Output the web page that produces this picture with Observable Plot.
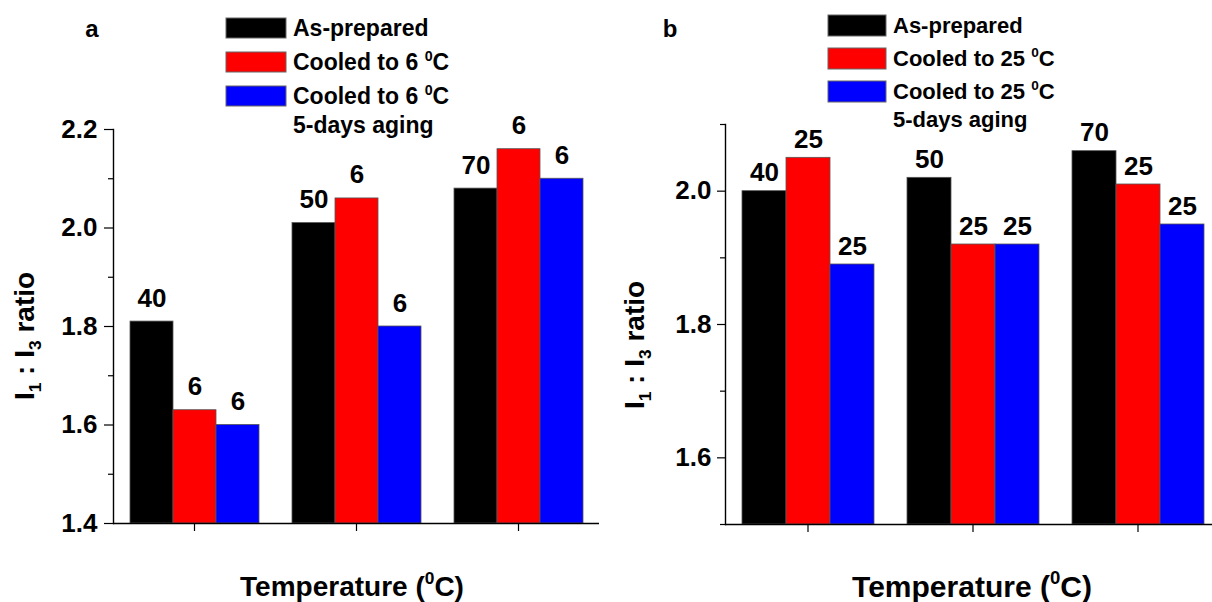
<!DOCTYPE html>
<html>
<head>
<meta charset="utf-8">
<script src="https://cdn.jsdelivr.net/npm/d3@7"></script>
<script src="https://cdn.jsdelivr.net/npm/@observablehq/plot@0.6"></script>
<style>
  html, body { margin: 0; padding: 0; background: #fff; overflow: hidden; }
  #root { position: relative; width: 1212px; height: 602px; overflow: hidden; }
  .panel { position: absolute; top: 0; }
  .panel svg { max-width: none !important; display: block; }
  .panel svg text { font-family: "Liberation Sans", Arial, sans-serif; }
</style>
</head>
<body>
<div id="root">
  <div class="panel" id="panelA" style="left:0px; width:606px"></div>
  <div class="panel" id="panelB" style="left:606px; width:615px"></div>
</div>
<script>
// Shared categories
const temperatures = ["40", "50", "70"];
const seriesKeys = ["asPrepared", "cooled", "aged"];
const seriesColors = ["#000000", "#ff0000", "#0000ff"];

// Panel a — cooled to 6 °C
const coolTempA = "6";
const asPreparedA = [1.81, 2.01, 2.08];
const cooledA = [1.63, 2.06, 2.16];
const agedA = [1.60, 1.80, 2.10];
const asPreparedLabelsA = ["40", "50", "70"];
const cooledLabelsA = ["6", "6", "6"];
const agedLabelsA = ["6", "6", "6"];
const yDomainA = [1.4, 2.2];
const yTicksA = [1.4, 1.6, 1.8, 2.0, 2.2];
const yMinorA = [1.5, 1.7, 1.9, 2.1];

// Panel b — cooled to 25 °C
const coolTempB = "25";
const asPreparedB = [2.00, 2.02, 2.06];
const cooledB = [2.05, 1.92, 2.01];
const agedB = [1.89, 1.92, 1.95];
const asPreparedLabelsB = ["40", "50", "70"];
const cooledLabelsB = ["25", "25", "25"];
const agedLabelsB = ["25", "25", "25"];
const yDomainB = [1.5, 2.1];
const yTicksB = [1.6, 1.8, 2.0];
const yMinorB = [1.5, 1.7, 1.9, 2.1];

const FONT = '"Liberation Sans", Arial, sans-serif';

function buildRows(values, labels) {
  const rows = [];
  temperatures.forEach((t, i) => {
    seriesKeys.forEach((s, j) => {
      rows.push({temp: t, series: s, value: values[j][i], label: labels[j][i]});
    });
  });
  return rows;
}

function barPanel(cfg) {
  const rows = buildRows(cfg.values, cfg.labels);
  const yMin = cfg.yDomain[0];
  return Plot.plot({
    width: cfg.width,
    height: cfg.height,
    marginLeft: cfg.marginLeft,
    marginRight: cfg.marginRight,
    marginTop: cfg.marginTop,
    marginBottom: cfg.marginBottom,
    style: {fontFamily: FONT, color: "#000", background: "transparent", overflow: "visible", maxWidth: "none"},
    fx: {domain: temperatures, paddingInner: 0, paddingOuter: 0, axis: null},
    x: {domain: seriesKeys, paddingInner: 0, paddingOuter: 0.367, axis: null},
    y: {domain: cfg.yDomain, axis: null},
    color: {domain: seriesKeys, range: seriesColors},
    marks: [
      Plot.barY(rows, {
        fx: "temp", x: "series", y1: yMin, y2: "value",
        fill: "series", stroke: "#555", strokeWidth: 0.8
      }),
      Plot.text(rows, {
        fx: "temp", x: "series", y: "value", text: "label",
        lineAnchor: "bottom", dy: cfg.labelDy,
        fontSize: cfg.labelSize, fontWeight: "bold", fill: "#000"
      }),
      // x axis line
      Plot.ruleY([yMin], {stroke: "#000", strokeWidth: 1.4}),
      // one outward tick under the centre of each temperature group
      Plot.ruleX(temperatures, {fx: (d) => d, x: null, y1: yMin, y2: yMin, insetBottom: -8, stroke: "#000", strokeWidth: 1.2}),
      // y axis line
      Plot.frame({anchor: "left", facetAnchor: "left", stroke: "#000", strokeWidth: 1.4}),
      Plot.axisY({
        ticks: cfg.yTicks, tickSize: cfg.tickSize, tickPadding: cfg.tickPadding,
        tickFormat: d3.format(".1f"), fontSize: cfg.tickFont, fontWeight: "bold",
        label: null, strokeWidth: 1.2
      }),
      Plot.axisY({ticks: cfg.yMinor, tickSize: 5, tickFormat: () => "", label: null, strokeWidth: 1.2})
    ]
  });
}

// Text with optional superscript/subscript pieces: parts = [[text, "sup"|"sub"|""], ...]
function richText(g, x, y, parts, size, opts = {}) {
  const t = g.append("text")
    .attr("x", x).attr("y", y)
    .attr("font-family", FONT)
    .attr("font-size", size)
    .attr("font-weight", "bold")
    .attr("fill", "#000")
    .attr("text-anchor", opts.anchor || "start");
  if (opts.rotate) t.attr("transform", `rotate(-90 ${x} ${y})`);
  let shift = 0;
  for (const [txt, kind] of parts) {
    const s = t.append("tspan").text(txt);
    let target = 0;
    if (kind === "sup") { s.attr("font-size", size * 0.62); target = -size * 0.42; }
    else if (kind === "sub") { s.attr("font-size", size * 0.62); target = size * 0.25; }
    s.attr("dy", target - shift);
    shift = target;
  }
  return t;
}

function decorate(svg, d) {
  const g = d3.select(svg).append("g");
  // panel letter
  richText(g, d.letter[0], d.letter[1], [[d.letter[2], ""]], 24, {anchor: "middle"});
  // legend
  const entries = [
    [["As-prepared", ""]],
    [[`Cooled to ${d.coolTemp} `, ""], ["0", "sup"], ["C", ""]],
    [[`Cooled to ${d.coolTemp} `, ""], ["0", "sup"], ["C", ""]]
  ];
  entries.forEach((parts, i) => {
    const y0 = d.legend.y[i];
    g.append("rect")
      .attr("x", d.legend.x).attr("y", y0)
      .attr("width", d.legend.w).attr("height", d.legend.h)
      .attr("fill", seriesColors[i]).attr("stroke", "#666").attr("stroke-width", 1);
    richText(g, d.legend.tx, y0 + d.legend.h / 2 + d.legend.size * 0.36, parts, d.legend.size);
  });
  richText(g, d.legend.tx, d.legend.extraY, [["5-days aging", ""]], d.legend.size);
  // axis titles
  richText(g, d.xTitle[0], d.xTitle[1], [["Temperature (", ""], ["0", "sup"], ["C)", ""]], d.xTitle[2], {anchor: "middle"});
  richText(g, d.yTitle[0], d.yTitle[1],
    [["I", ""], ["1", "sub"], [" : I", ""], ["3", "sub"], [" ratio", ""]],
    d.yTitle[2], {anchor: "middle", rotate: true});
}

const svgA = barPanel({
  values: [asPreparedA, cooledA, agedA],
  labels: [asPreparedLabelsA, cooledLabelsA, agedLabelsA],
  yDomain: yDomainA, yTicks: yTicksA, yMinor: yMinorA,
  width: 606, height: 602, marginLeft: 112, marginRight: 6, marginTop: 129, marginBottom: 79,
  tickSize: 9, tickPadding: 7, tickFont: 26, labelSize: 26, labelDy: -15
});
decorate(svgA, {
  letter: [92, 37, "a"],
  coolTemp: coolTempA,
  legend: {x: 226, y: [18, 52, 86], w: 60, h: 20, tx: 293, size: 23, extraY: 133},
  xTitle: [352, 596, 28],
  yTitle: [34, 336, 28]
});
document.getElementById("panelA").appendChild(svgA);

const svgB = barPanel({
  values: [asPreparedB, cooledB, agedB],
  labels: [asPreparedLabelsB, cooledLabelsB, agedLabelsB],
  yDomain: yDomainB, yTicks: yTicksB, yMinor: yMinorB,
  width: 615, height: 602, marginLeft: 118, marginRight: 0, marginTop: 124, marginBottom: 78,
  tickSize: 8, tickPadding: 6, tickFont: 26, labelSize: 26, labelDy: -10
});
decorate(svgB, {
  letter: [64, 37, "b"],
  coolTemp: coolTempB,
  legend: {x: 222, y: [15, 48, 81], w: 58, h: 21, tx: 287, size: 22, extraY: 127},
  xTitle: [366, 597, 30],
  yTitle: [38, 345, 28]
});
document.getElementById("panelB").appendChild(svgB);
</script>
</body>
</html>
